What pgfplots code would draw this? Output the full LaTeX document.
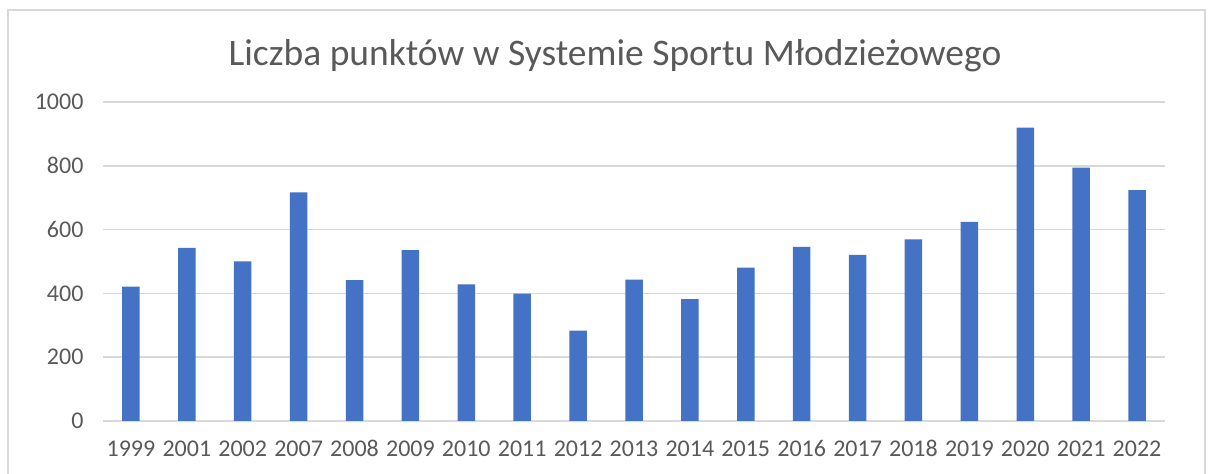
\documentclass[border=0pt]{standalone}
\usepackage{pgfplots}
\pgfplotsset{compat=1.18}
\usepackage{fontspec}
\setmainfont{Carlito}
\definecolor{barblue}{HTML}{4472C4}
\definecolor{txtgrey}{HTML}{595959}
\definecolor{gridgrey}{HTML}{D9D9D9}
\begin{document}
\begin{tikzpicture}
\path[use as bounding box] (0,0) rectangle (1208pt,474pt);
\draw[gridgrey, line width=1.2pt] (8pt,0pt) -- (8pt,464pt) -- (1205pt,464pt) -- (1205pt,0pt);
\node[txtgrey, font=\fontsize{37.5}{44}\selectfont] at (615pt,418pt) {Liczba punktów w Systemie Sportu Młodzieżowego};
\begin{axis}[
  at={(103pt,53pt)}, anchor=south west,
  width=1062pt, height=319pt, scale only axis,
  ybar, bar width=17.5pt,
  xmin=-0.5, xmax=18.5,
  ymin=0, ymax=1000,
  ytick={0,200,400,600,800,1000},
  xtick=data,
  xticklabels={1999,2001,2002,2007,2008,2009,2010,2011,2012,2013,2014,2015,2016,2017,2018,2019,2020,2021,2022},
  axis line style={draw=none},
  major tick length=0pt,
  ymajorgrids, grid style={gridgrey, line width=1.5pt},
  tick label style={txtgrey, font=\fontsize{24}{28}\selectfont},
  yticklabel style={xshift=-16pt},
  xticklabel style={yshift=-16pt, text height=16pt, text depth=0pt},
  /pgf/number format/assume math mode=true,
  /pgf/number format/set thousands separator={},
]
\addplot[fill=barblue, draw=none] coordinates {
(0,421) (1,543) (2,500) (3,717) (4,442) (5,536) (6,428) (7,399) (8,283) (9,443)
(10,382) (11,481) (12,546) (13,521) (14,569) (15,624) (16,920) (17,794) (18,724)
};
\end{axis}
\end{tikzpicture}
\end{document}
